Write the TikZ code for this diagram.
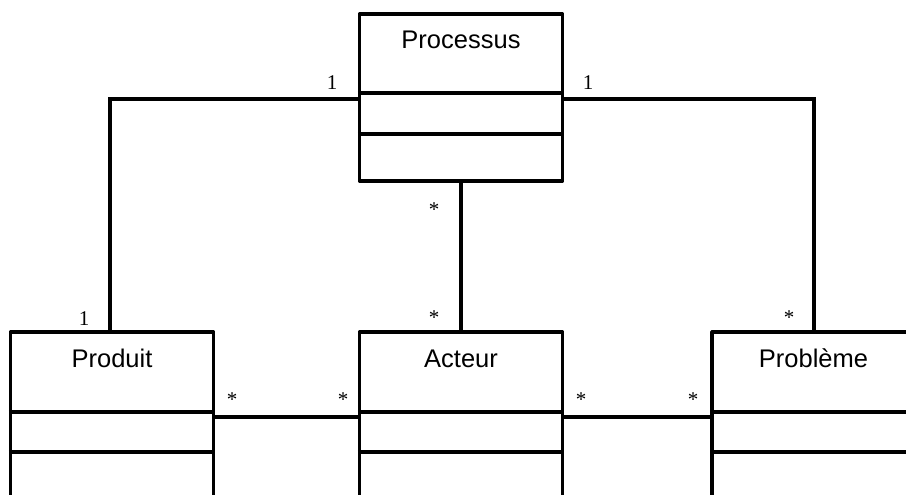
\documentclass[tikz,border=0pt]{standalone}
\usepackage{fontspec}
\setmainfont{Liberation Serif}
\newfontfamily\classfont{Liberation Sans}
\begin{document}
\begin{tikzpicture}[x=1pt,y=-1pt,
  classbox/.style={draw=black,line width=3.2pt,rectangle,inner sep=0pt,minimum width=203pt,line join=round},
  divider/.style={line width=4pt},
  conn/.style={line width=4pt},
  title/.style={font=\classfont\fontsize{25.5}{30}\selectfont,anchor=base,inner sep=0pt},
  mult/.style={font=\fontsize{21}{24}\selectfont,anchor=base,inner sep=0pt}]
\useasboundingbox (0,0) rectangle (906,495);
\clip (0,0) rectangle (906,495);
% class boxes
\node[classbox,minimum height=167pt] (proc) at (461,97.5) {};
\node[classbox,minimum height=200pt] (prod) at (112,432) {};
\node[classbox,minimum height=200pt] (act) at (461,432) {};
\node[classbox,minimum height=200pt] (prob) at (813.5,432) {};
% titles
\node[title] (tproc) at (461,49) {Processus};
\node[title] (tprod) at (112,367) {Produit};
\node[title] (tact) at (461,367) {Acteur};
\node[title] (tprob) at (813.5,367) {Problème};
% dividers
\coordinate (d1) at (0,93);
\coordinate (d2) at (0,134);
\coordinate (e1) at (0,412);
\coordinate (e2) at (0,452);
\draw[divider] (proc.west |- d1) -- (proc.east |- d1);
\draw[divider] (proc.west |- d2) -- (proc.east |- d2);
\foreach \n in {prod,act,prob}{
  \draw[divider] (\n.west |- e1) -- (\n.east |- e1);
  \draw[divider] (\n.west |- e2) -- (\n.east |- e2);
}
% connectors
\coordinate (cy) at (0,99);
\coordinate (hy) at (0,417);
\coordinate (vl) at (110,0);
\coordinate (vr) at (814,0);
\draw[conn] (proc.west |- cy) -| (prod.north -| vl);
\draw[conn] (proc.east |- cy) -| (prob.north -| vr);
\draw[conn] (proc.south) -- (act.north);
\draw[conn] (prod.east |- hy) -- (act.west |- hy);
\draw[conn] (act.east |- hy) -- (prob.west |- hy);
% multiplicities
\node[mult] (m1) at (332,89) {1};
\node[mult] (m2) at (588,89) {1};
\node[mult] (m3) at (84,325) {1};
\node[mult] (m4) at (434,216) {*};
\node[mult] (m5) at (434,324) {*};
\node[mult] (m6) at (232,406) {*};
\node[mult] (m7) at (343,406) {*};
\node[mult] (m8) at (581,406) {*};
\node[mult] (m9) at (693,406) {*};
\node[mult] (m10) at (789,324) {*};
\end{tikzpicture}
\end{document}
